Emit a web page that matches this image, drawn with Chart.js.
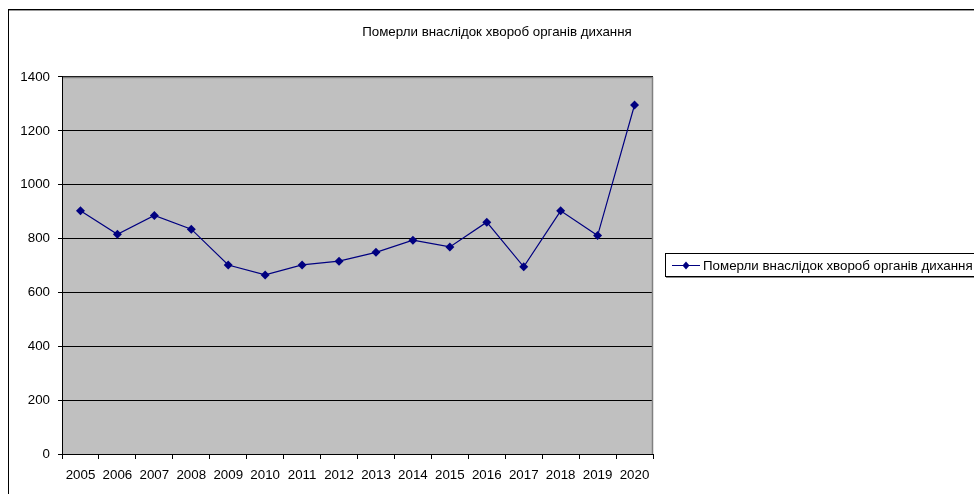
<!DOCTYPE html>
<html lang="uk">
<head>
  <meta charset="UTF-8" />
  <title>Померли внаслідок хвороб органів дихання</title>
  <script src="https://cdn.jsdelivr.net/npm/chart.js"></script>
  <style>
    body {
      margin: 0;
      padding: 0;
      background: #fff;
      overflow: hidden;
    }
    #chart-container {
      width: 994px;
      height: 494px;
    }
  </style>
</head>
<body>
  <div id="chart-container">
    <canvas id="deathsChart"></canvas>
  </div>

  <script>
    const TITLE = "Померли внаслідок хвороб органів дихання";
    const years = ["2005", "2006", "2007", "2008", "2009", "2010", "2011", "2012",
                   "2013", "2014", "2015", "2016", "2017", "2018", "2019", "2020"];
    const deaths = [903, 816, 886, 835, 702, 665, 702, 716,
                    749, 794, 769, 861, 695, 903, 811, 1296];
    const yTicks = [0, 200, 400, 600, 800, 1000, 1200, 1400];

    const FONT = "Arial, 'Liberation Sans', sans-serif";
    const FONT_SIZE = 13.33;
    const NAVY = "#000080";

    // grey plot area, outer frame and the boxed legend
    const frame = {
      id: 'frame',
      beforeDraw(chart) {
        const c = chart.ctx;
        const a = chart.chartArea;
        c.save();
        c.fillStyle = '#c0c0c0';
        c.fillRect(a.left, a.top, a.right - a.left, a.bottom - a.top);
        c.strokeStyle = '#000';
        c.lineWidth = 1;
        c.strokeRect(8.5, 9.5, 2000, 2000);
        c.strokeStyle = '#999';
        c.beginPath();
        c.moveTo(9, 10.5);
        c.lineTo(2000, 10.5);
        c.stroke();
        c.restore();
      },
      beforeDatasetsDraw(chart) {
        const c = chart.ctx;
        const a = chart.chartArea;
        const top = chart.scales.y.getPixelForValue(1400);
        const t = Math.round(top) + 0.5;
        c.save();
        c.strokeStyle = '#808080';
        c.lineWidth = 1.5;
        c.beginPath();
        c.moveTo(a.left + 1, t);
        c.lineTo(Math.round(a.right) - 0.5, t);
        c.lineTo(Math.round(a.right) - 0.5, a.bottom);
        c.stroke();
        c.restore();
      },
      afterDraw(chart) {
        const c = chart.ctx;
        const ds = chart.data.datasets[0];
        const y = 265;
        c.save();
        c.strokeStyle = '#000';
        c.lineWidth = 1;
        c.strokeRect(665.5, 253.5, 340, 23);
        c.strokeStyle = '#888';
        c.beginPath();
        c.moveTo(666, 277.5);
        c.lineTo(1010, 277.5);
        c.stroke();
        c.strokeStyle = NAVY;
        c.beginPath();
        c.moveTo(672, y + 0.5);
        c.lineTo(700, y + 0.5);
        c.stroke();
        c.fillStyle = NAVY;
        c.beginPath();
        c.moveTo(686, y - 3.5);
        c.lineTo(689.5, y + 0.5);
        c.lineTo(686, y + 4.5);
        c.lineTo(682.5, y + 0.5);
        c.closePath();
        c.fill();
        c.fillStyle = '#000';
        c.font = FONT_SIZE + 'px ' + FONT;
        c.textBaseline = 'middle';
        c.fillText(ds.label, 703, y + 1);
        c.restore();
      }
    };

    const ctx = document.getElementById('deathsChart').getContext('2d');
    new Chart(ctx, {
      type: 'line',
      data: {
        labels: years,
        datasets: [{
          label: TITLE,
          data: deaths,
          borderColor: NAVY,
          backgroundColor: NAVY,
          borderWidth: 1.2,
          pointStyle: 'rectRot',
          pointRadius: 4.5,
          pointBorderWidth: 0,
          tension: 0
        }]
      },
      options: {
        responsive: true,
        maintainAspectRatio: false,
        animation: false,
        layout: { padding: 0 },
        plugins: {
          legend: { display: false },
          tooltip: { enabled: false },
          title: {
            display: true,
            text: TITLE,
            color: '#000',
            font: { family: FONT, size: FONT_SIZE, weight: 'normal' },
            padding: { top: 24, bottom: 37 }
          }
        },
        scales: {
          x: {
            offset: true,
            grid: {
              offset: true,
              drawOnChartArea: false,
              color: '#000',
              tickLength: 5
            },
            border: { color: '#000' },
            ticks: {
              color: '#000',
              font: { family: FONT, size: FONT_SIZE },
              padding: 8,
              maxRotation: 0,
              autoSkip: false
            },
            afterFit: s => { s.height = 40; }
          },
          y: {
            min: 0,
            max: 1400,
            afterBuildTicks: s => { s.ticks = yTicks.map(v => ({ value: v })); },
            grid: {
              color: '#000',
              tickLength: 4
            },
            border: { color: '#000' },
            ticks: {
              color: '#000',
              font: { family: FONT, size: FONT_SIZE },
              padding: 8,
              callback: v => String(v)
            },
            afterFit: s => { s.width = 62; }
          },
          // empty space on the right where the legend sits
          side: {
            type: 'linear',
            position: 'right',
            grid: { display: false },
            border: { display: false },
            ticks: { display: false },
            afterFit: s => { s.width = 341; }
          }
        }
      },
      plugins: [frame]
    });
  </script>
</body>
</html>
